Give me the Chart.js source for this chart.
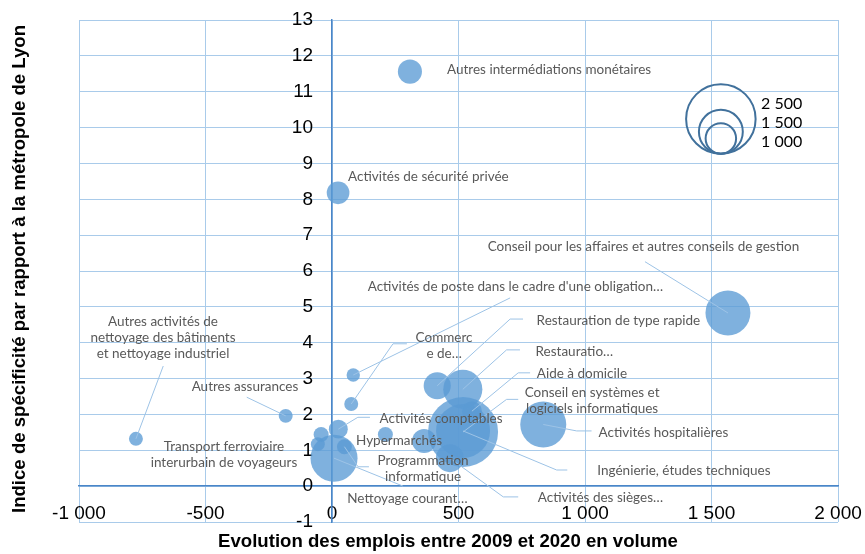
<!DOCTYPE html>
<html>
<head>
<meta charset="utf-8">
<script src="https://cdn.jsdelivr.net/npm/chart.js@4.4.1/dist/chart.umd.min.js"></script>
<style>
  html, body { margin: 0; background: #fff; }
  canvas { display: block; }
</style>
</head>
<body>
<canvas id="bubble_chart" width="865" height="554"></canvas>
<script>
// secteurs : evolution 2009-2020 (x), indice de specificite (y), emplois (taille)
const names = [
  "Autres intermédiations monétaires",
  "Activités de sécurité privée",
  "Conseil pour les affaires et autres conseils de gestion",
  "Activités hospitalières",
  "Autres activités de\nnettoyage des bâtiments\net nettoyage industriel",
  "Autres assurances",
  "Activités de poste dans le cadre d'une obligation…",
  "Commerc\ne de…",
  "Activités comptables",
  "Transport ferroviaire\ninterurbain de voyageurs",
  "",
  "Programmation\ninformatique",
  "Hypermarchés",
  "Nettoyage courant…",
  "Restauration de type rapide",
  "Restauratio…",
  "Conseil en systèmes et\nlogiciels informatiques",
  "Aide à domicile",
  "Ingénierie, études techniques",
  "Activités des sièges…",
  ""
];
const xs = [308, 24, 1565, 835, -775, -183, 84, 76, 25, -43, -56, 49, 211, 8, 416, 517, 518, 553, 518, 466, 364];
const ys = [11.56, 8.18, 4.83, 1.72, 1.32, 1.96, 3.10, 2.29, 1.59, 1.44, 1.17, 1.10, 1.44, 0.78, 2.80, 2.70, 1.51, 2.09, 1.54, 0.78, 1.26];
const sizes = [770, 720, 1540, 1580, 420, 420, 400, 420, 590, 455, 420, 455, 455, 1620, 880, 1320, 2520, 630, 1890, 910, 770];

// position des etiquettes (centre du texte, en unites des axes) et lignes de rappel
const labelX = [858, 381, 1231, 1310, -668, -344, 725, 443, 431, -427, 0, 360, 265, 298, 1132, 958, 1028, 988, 1391, 1061, 0];
const labelY = [11.62, 8.64, 6.69, 1.50, 4.15, 2.77, 5.55, 3.92, 1.89, 0.89, 0, 0.49, 1.28, -0.36, 4.62, 3.75, 2.39, 3.13, 0.43, -0.33, 0];
const leaders = [
  null, null,
  [[1237, 6.26]],
  [[967, 1.54], [1026, 1.54]],
  [[-667, 3.35]],
  [[-337, 2.48]],
  [[704, 5.25]],
  [[241, 3.97], [296, 3.97]],
  [[102, 1.92], [150, 1.92]],
  null, null,
  [[103, 0.54], [146, 0.54]],
  null,
  [[281, 0.0]],
  [[704, 4.66], [755, 4.66]],
  [[690, 3.80], [743, 3.80]],
  [[690, 2.42], [736, 2.42]],
  [[736, 3.16], [783, 3.16]],
  [[888, 0.45], [930, 0.45]],
  [[677, -0.30], [736, -0.30]],
  null
];

const legendSizes = [2500, 1500, 1000];
const legendAnchor = [1537, 9.27];
const legendTextAt = [1696, 10.66];

const xMin = -1000, xMax = 2000, yMin = -1, yMax = 13;

function radiusFor(v) {
  return 0.0304 * Math.pow(v, 0.9);
}
function fmt(v) {
  return String(v).replace(/\B(?=(\d{3})+(?!\d))/g, " ");
}

const points = xs.map((x, i) => ({ x: x, y: ys[i], r: radiusFor(sizes[i]) }));

const gridColor = "#a9cbea";
const axisColor = "#4a86c8";

const extras = {
  id: "extras",
  afterDatasetsDraw(chart) {
    const ctx = chart.ctx;
    const sx = chart.scales.x, sy = chart.scales.y;
    ctx.save();

    // lignes de rappel
    ctx.strokeStyle = "#9dc3e6";
    ctx.lineWidth = 1;
    leaders.forEach((pts, i) => {
      if (!pts) return;
      ctx.beginPath();
      ctx.moveTo(sx.getPixelForValue(xs[i]), sy.getPixelForValue(ys[i]));
      pts.forEach(p => ctx.lineTo(sx.getPixelForValue(p[0]), sy.getPixelForValue(p[1])));
      ctx.stroke();
    });

    // etiquettes
    ctx.font = "13.5px Lato";
    ctx.fillStyle = "#595959";
    ctx.textAlign = "center";
    ctx.textBaseline = "middle";
    names.forEach((txt, i) => {
      if (!txt) return;
      const lines = txt.split("\n");
      const cx = sx.getPixelForValue(labelX[i]);
      const cy = sy.getPixelForValue(labelY[i]);
      const lh = 16;
      lines.forEach((l, k) => {
        ctx.fillText(l, cx, cy + (k - (lines.length - 1) / 2) * lh);
      });
    });

    // legende des tailles
    const bx = sx.getPixelForValue(legendAnchor[0]);
    const by = sy.getPixelForValue(legendAnchor[1]);
    ctx.strokeStyle = "#41719c";
    ctx.lineWidth = 2;
    legendSizes.forEach(v => {
      const r = radiusFor(v);
      ctx.beginPath();
      ctx.arc(bx, by - r, r, 0, Math.PI * 2);
      ctx.stroke();
    });
    ctx.font = "16px Lato";
    ctx.fillStyle = "#000";
    ctx.textAlign = "left";
    const tx = sx.getPixelForValue(legendTextAt[0]);
    const ty = sy.getPixelForValue(legendTextAt[1]);
    legendSizes.forEach((v, k) => ctx.fillText(fmt(v), tx, ty + k * 19));

    // titres des axes
    ctx.font = "bold 18.6px 'Liberation Sans'";
    ctx.fillStyle = "#000";
    ctx.textAlign = "center";
    ctx.fillText("Evolution des emplois entre 2009 et 2020 en volume", 448, 542);
    ctx.translate(20, 269);
    ctx.rotate(-Math.PI / 2);
    ctx.fillText("Indice de spécificité par rapport à la métropole de Lyon", 0, 0);
    ctx.restore();
  }
};

new Chart(document.getElementById("bubble_chart"), {
  type: "bubble",
  data: {
    datasets: [{
      data: points,
      backgroundColor: "rgba(91, 155, 213, 0.78)",
      borderWidth: 0,
      hoverBorderWidth: 0
    }]
  },
  options: {
    responsive: false,
    animation: false,
    layout: { autoPadding: false, padding: { left: 79, right: 27, top: 20, bottom: 32 } },
    scales: {
      x: {
        type: "linear",
        position: { y: 0 },
        min: xMin, max: xMax,
        grid: { color: gridColor, drawTicks: true, tickLength: 16, tickColor: "rgba(0,0,0,0)" },
        border: { color: axisColor, width: 1.5 },
        ticks: {
          stepSize: 500,
          padding: 0,
          color: "#000",
          font: { family: "'Liberation Sans'", size: 19 },
          maxRotation: 0,
          autoSkip: false,
          callback: v => fmt(v)
        }
      },
      y: {
        type: "linear",
        position: { x: 0 },
        min: yMin, max: yMax,
        grid: { color: gridColor, drawTicks: false },
        border: { color: axisColor, width: 1.5 },
        ticks: {
          stepSize: 1,
          padding: 0,
          color: "#000",
          font: { family: "'Liberation Sans'", size: 19 },
          autoSkip: false,
          // ecart entre le libelle et l'axe vertical
          callback: v => v + "\u2002\u2002"
        }
      }
    },
    plugins: {
      legend: { display: false },
      tooltip: { enabled: false }
    }
  },
  plugins: [extras]
});
</script>
</body>
</html>
